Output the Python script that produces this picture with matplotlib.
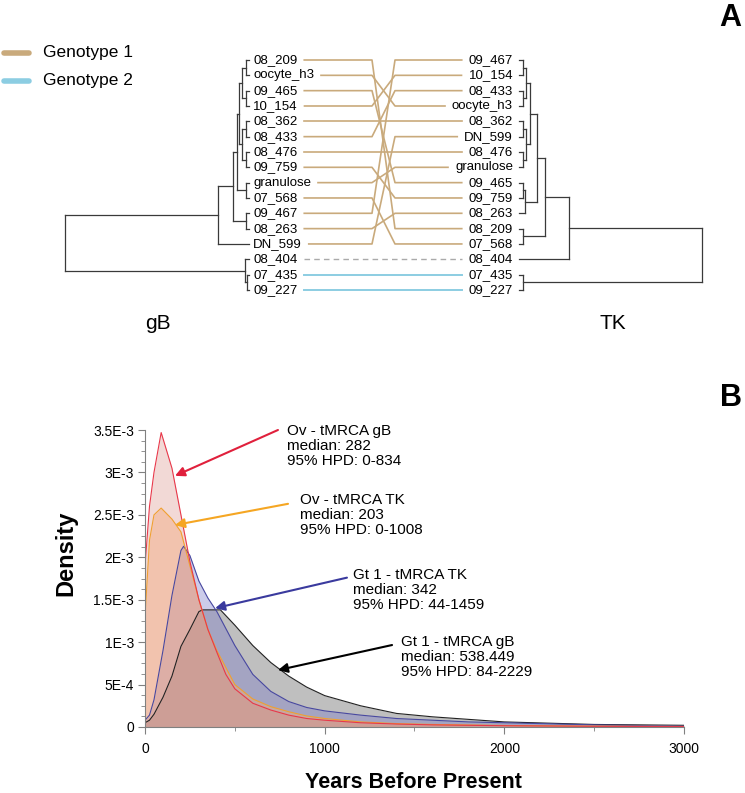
import matplotlib
matplotlib.use("Agg")
import matplotlib.pyplot as plt
from matplotlib.ticker import AutoMinorLocator

plt.rcParams['font.family'] = ['Liberation Sans', 'DejaVu Sans']

# ---------------- panel A data ----------------
left_order = ['08_209', 'oocyte_h3', '09_465', '10_154', '08_362', '08_433', '08_476',
              '09_759', 'granulose', '07_568', '09_467', '08_263', 'DN_599',
              '08_404', '07_435', '09_227']
right_order = ['09_467', '10_154', '08_433', 'oocyte_h3', '08_362', 'DN_599', '08_476',
               'granulose', '09_465', '09_759', '08_263', '08_209', '07_568',
               '08_404', '07_435', '09_227']
genotype2 = ['07_435', '09_227']
unassigned = ['08_404']

# trees as (node height, child, child); leaves are names
gB_tree = (184,
           (31,
            (16,
             (12,
              (10,
               (7, (3, '08_209', 'oocyte_h3'), (3, '09_465', '10_154')),
               (7, (3, '08_362', '08_433'), (3, '08_476', '09_759'))),
              (3, 'granulose', '07_568')),
             (3, '09_467', '08_263')),
            'DN_599'),
           (4, '08_404', (2, '07_435', '09_227')))

TK_tree = (183,
           (50,
            (26,
             (18,
              (11,
               (7, (4, '09_467', '10_154'), (4, '08_433', 'oocyte_h3')),
               (7, (4, '08_362', 'DN_599'), (4, '08_476', 'granulose'))),
              (6, (4, '09_465', '09_759'), '08_263')),
             (4, '08_209', '07_568')),
            '08_404'),
           (4, '07_435', '09_227'))

# ---------------- panel B data ----------------
yrs_ov_gB = [0, 25, 50, 90, 150, 200, 250, 300, 350, 400, 450, 500, 600, 700, 800,
             900, 1000, 1200, 1400, 1600, 2000, 2500, 3000]
den_ov_gB = [1.9e-3, 2.6e-3, 3.0e-3, 3.47e-3, 3.05e-3, 2.5e-3, 1.95e-3, 1.5e-3, 1.15e-3,
             0.88e-3, 0.62e-3, 0.45e-3, 0.28e-3, 0.2e-3, 0.14e-3, 0.1e-3, 0.08e-3,
             0.05e-3, 0.035e-3, 0.025e-3, 0.015e-3, 0.008e-3, 0.005e-3]

yrs_ov_TK = [0, 25, 50, 90, 150, 200, 250, 300, 350, 400, 500, 600, 700, 800, 900,
             1000, 1200, 1400, 1600, 2000, 2500, 3000]
den_ov_TK = [1.3e-3, 2.2e-3, 2.5e-3, 2.58e-3, 2.45e-3, 2.3e-3, 1.9e-3, 1.5e-3, 1.15e-3,
             0.9e-3, 0.5e-3, 0.33e-3, 0.24e-3, 0.18e-3, 0.13e-3, 0.1e-3, 0.06e-3,
             0.04e-3, 0.03e-3, 0.018e-3, 0.01e-3, 0.006e-3]

yrs_gt_TK = [0, 25, 50, 100, 150, 200, 215, 250, 300, 350, 400, 500, 600, 700, 800,
             900, 1000, 1200, 1400, 1600, 1800, 2000, 2500, 3000]
den_gt_TK = [0.08e-3, 0.14e-3, 0.32e-3, 0.9e-3, 1.55e-3, 2.08e-3, 2.13e-3, 2.02e-3,
             1.72e-3, 1.52e-3, 1.36e-3, 0.96e-3, 0.62e-3, 0.42e-3, 0.3e-3, 0.23e-3,
             0.19e-3, 0.14e-3, 0.1e-3, 0.08e-3, 0.06e-3, 0.05e-3, 0.025e-3, 0.01e-3]

yrs_gt_gB = [0, 25, 50, 100, 150, 200, 250, 300, 320, 420, 500, 600, 700, 800, 900,
             1000, 1200, 1400, 1600, 1800, 2000, 2500, 3000]
den_gt_gB = [0.05e-3, 0.08e-3, 0.15e-3, 0.35e-3, 0.6e-3, 0.95e-3, 1.15e-3, 1.36e-3,
             1.38e-3, 1.38e-3, 1.2e-3, 0.96e-3, 0.76e-3, 0.6e-3, 0.47e-3, 0.37e-3,
             0.25e-3, 0.16e-3, 0.12e-3, 0.09e-3, 0.06e-3, 0.03e-3, 0.02e-3]

y_ticks = [0, 0.5e-3, 1e-3, 1.5e-3, 2e-3, 2.5e-3, 3e-3, 3.5e-3]
y_ticklabels = ['0', '5E-4', '1E-3', '1.5E-3', '2E-3', '2.5E-3', '3E-3', '3.5E-3']
x_ticks = [0, 1000, 2000, 3000]

notes = [
    ("Ov - tMRCA gB\nmedian: 282\n95% HPD: 0-834", '#e0203c', (790, 3.31e-3), (740, 3.5e-3), (167, 2.96e-3)),
    ("Ov - tMRCA TK\nmedian: 203\n95% HPD: 0-1008", '#f5a623', (863, 2.5e-3), (796, 2.63e-3), (167, 2.38e-3)),
    ("Gt 1 - tMRCA TK\nmedian: 342\n95% HPD: 44-1459", '#3a3a9e', (1157, 1.61e-3), (1124, 1.76e-3), (390, 1.40e-3)),
    ("Gt 1 - tMRCA gB\nmedian: 538.449\n95% HPD: 84-2229", '#000000', (1425, 0.825e-3), (1375, 0.966e-3), (740, 0.67e-3)),
]

W, H = 745, 793
fig = plt.figure(figsize=(W / 100, H / 100), dpi=100)

# ---------------- panel A ----------------
top_h = 345
axA = fig.add_axes([0, 1 - top_h / H, 1, top_h / H])
axA.set_xlim(0, W)
axA.set_ylim(top_h, 0)
axA.axis('off')

row0, row_step = 60, 15.33
tree_col = '#3a3a3a'


def row_y(i):
    return row0 + row_step * i


def draw_tree(node, order, tip_x, sign):
    # returns (x, y) of node; sign=-1 grows to the left, +1 to the right
    if isinstance(node, str):
        return tip_x, row_y(order.index(node))
    h, a, b = node
    x = tip_x + sign * h
    pts = [draw_tree(c, order, tip_x, sign) for c in (a, b)]
    for cx, cy in pts:
        axA.plot([x, cx], [cy, cy], color=tree_col, lw=0.9)
    axA.plot([x, x], [pts[0][1], pts[1][1]], color=tree_col, lw=0.9)
    return x, (pts[0][1] + pts[1][1]) / 2


draw_tree(gB_tree, left_order, 249, -1)
draw_tree(TK_tree, right_order, 519, +1)

left_txt = {}
for i, name in enumerate(left_order):
    left_txt[name] = axA.text(253, row_y(i), name, ha='left', va='center', fontsize=9.5)
right_txt = {}
for i, name in enumerate(right_order):
    right_txt[name] = axA.text(513, row_y(i), name, ha='right', va='center', fontsize=9.5)

fig.canvas.draw()
rend = fig.canvas.get_renderer()
inv = axA.transData.inverted()

g1_col = '#c9aa7c'
g2_col = '#8ccde2'
for name in left_order:
    bl = inv.transform(left_txt[name].get_window_extent(rend))
    br = inv.transform(right_txt[name].get_window_extent(rend))
    x0 = bl[1][0] + 7
    x1 = br[0][0] - 7
    yl = row_y(left_order.index(name))
    yr = row_y(right_order.index(name))
    if name in unassigned:
        axA.plot([x0, x1], [yl, yr], color='#aaaaaa', lw=1, ls=(0, (4, 3)))
    elif name in genotype2:
        axA.plot([x0, x1], [yl, yr], color=g2_col, lw=1.4)
    else:
        axA.plot([x0, 372, 395, x1], [yl, yl, yr, yr], color=g1_col, lw=1.2)

# legend
axA.plot([4, 29], [53, 53], color=g1_col, lw=4, solid_capstyle='round')
axA.plot([4, 29], [81, 81], color=g2_col, lw=4, solid_capstyle='round')
axA.text(43, 53, 'Genotype 1', va='center', fontsize=12.5)
axA.text(43, 81, 'Genotype 2', va='center', fontsize=12.5)

axA.text(158, 323, 'gB', ha='center', va='center', fontsize=15)
axA.text(613, 323, 'TK', ha='center', va='center', fontsize=15)
axA.text(730, 18, 'A', ha='center', va='center', fontsize=22, fontweight='bold')

# ---------------- panel B ----------------
axB = fig.add_axes([145 / W, 1 - 727 / H, (684 - 145) / W, (727 - 430) / H])
axB.fill_between(yrs_gt_gB, den_gt_gB, color='#808080', alpha=0.5, lw=0)
axB.plot(yrs_gt_gB, den_gt_gB, color='#222222', lw=0.8)
axB.fill_between(yrs_gt_TK, den_gt_TK, color='#7a7ac8', alpha=0.38, lw=0)
axB.plot(yrs_gt_TK, den_gt_TK, color='#4848a0', lw=0.8)
axB.fill_between(yrs_ov_TK, den_ov_TK, color='#ffb070', alpha=0.4, lw=0)
axB.plot(yrs_ov_TK, den_ov_TK, color='#f0a030', lw=0.8)
axB.fill_between(yrs_ov_gB, den_ov_gB, color='#d88a80', alpha=0.32, lw=0)
axB.plot(yrs_ov_gB, den_ov_gB, color='#e8384a', lw=0.8)

axB.set_xlim(0, 3000)
axB.set_ylim(0, 3.5e-3)
axB.set_xticks(x_ticks)
axB.set_yticks(y_ticks)
axB.set_yticklabels(y_ticklabels)
axB.xaxis.set_minor_locator(AutoMinorLocator(2))
axB.yaxis.set_minor_locator(AutoMinorLocator(4))
for s in ('top', 'right'):
    axB.spines[s].set_visible(False)
for s in ('left', 'bottom'):
    axB.spines[s].set_color('#808080')
axB.tick_params(which='major', length=5, color='#808080', labelsize=10, pad=3)
axB.tick_params(which='minor', length=3, color='#808080')
axB.tick_params(axis='x', pad=6)

for txt, col, txy, tail, tip in notes:
    axB.annotate('', xy=tip, xytext=tail,
                 arrowprops=dict(arrowstyle='-|>', color=col, lw=1.5, mutation_scale=14,
                                 shrinkA=0, shrinkB=0))
    axB.text(txy[0], txy[1], txt, ha='left', va='center', fontsize=11, linespacing=1.1)

fig.text(66 / W, 1 - 553 / H, 'Density', rotation=90, ha='center', va='center',
         fontsize=17, fontweight='bold')
fig.text(413 / W, 1 - 783 / H, 'Years Before Present', ha='center', va='center',
         fontsize=15.5, fontweight='bold')
fig.text(731 / W, 1 - 398 / H, 'B', ha='center', va='center', fontsize=22, fontweight='bold')

fig.savefig('out.png', dpi=100)
